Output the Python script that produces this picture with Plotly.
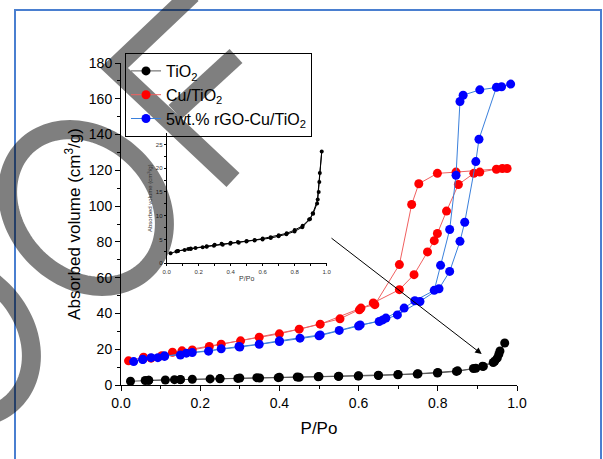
import numpy as np
import plotly.graph_objects as go

# ---------------- data ----------------
# TiO2: adsorption branch then desorption branch
tio2_p = [0.024, 0.061, 0.07, 0.112, 0.135, 0.15, 0.18, 0.225, 0.25, 0.295, 0.35, 0.397, 0.45,
          0.498, 0.549, 0.599, 0.65, 0.699, 0.748, 0.799, 0.847, 0.896, 0.913, 0.944, 0.954, 0.969,
          0.957, 0.950, 0.940, 0.915, 0.89, 0.85, 0.80, 0.75, 0.70, 0.65, 0.60, 0.55, 0.50, 0.445,
          0.40, 0.343, 0.30, 0.25, 0.15, 0.07]
tio2_v = [2.1, 2.5, 2.6, 2.8, 3.0, 3.0, 3.2, 3.4, 3.5, 3.7, 3.9, 4.1, 4.3,
          4.6, 4.8, 5.0, 5.3, 5.7, 6.1, 6.7, 7.6, 9.3, 10.5, 13.4, 17.1, 23.5,
          19.0, 15.0, 12.6, 10.4, 9.2, 7.9, 7.0, 6.3, 5.9, 5.5, 5.2, 4.9, 4.7, 4.5,
          4.3, 4.1, 3.9, 3.6, 3.1, 2.6]

cu_p = [0.019, 0.057, 0.103, 0.13, 0.18, 0.253, 0.349, 0.45, 0.553, 0.602, 0.637, 0.703, 0.74,
        0.774, 0.791, 0.799, 0.822, 0.852, 0.891, 0.906, 0.948, 0.975,
        0.963, 0.846, 0.799, 0.752, 0.734, 0.703, 0.641, 0.606, 0.503, 0.40, 0.302, 0.223,
        0.154, 0.076]
cu_v = [13.5, 15.5, 16.4, 18.3, 19.6, 22.8, 26.7, 31.2, 37.0, 42.0, 45.9, 53.3, 61.7,
        74.4, 80.7, 84.7, 97.2, 112.1, 118.3, 119.0, 120.6, 121.0,
        121.0, 119.0, 118.3, 112.5, 100.9, 67.3, 44.9, 43.0, 34.0, 28.6, 24.7, 21.5,
        19.1, 15.0]

rgo_p = [0.032, 0.055, 0.076, 0.093, 0.11, 0.15, 0.18, 0.221, 0.253, 0.298, 0.349, 0.40, 0.452,
         0.503, 0.551, 0.604, 0.652, 0.698, 0.755, 0.803, 0.83, 0.856, 0.868, 0.896, 0.904,
         0.948, 0.984,
         0.961, 0.906, 0.864, 0.856, 0.846, 0.83, 0.807, 0.791, 0.742, 0.715, 0.669, 0.661,
         0.60, 0.50, 0.40, 0.30, 0.165, 0.11, 0.055]
rgo_v = [13.1, 14.4, 15.3, 15.3, 16.3, 16.8, 18.1, 18.9, 20.2, 21.5, 22.8, 24.7, 26.2,
         28.0, 30.5, 33.6, 35.5, 39.2, 46.7, 53.8, 63.5, 80.3, 91.0, 124.9, 137.4,
         166.4, 168.2,
         166.7, 165.0, 162.0, 158.5, 117.2, 86.9, 66.9, 52.9, 47.1, 43.0, 37.4, 36.4,
         33.0, 27.5, 24.3, 21.2, 17.8, 16.0, 14.2]

series_names = ["TiO<sub>2</sub>", "Cu/TiO<sub>2</sub>", "5wt.% rGO-Cu/TiO<sub>2</sub>"]
x_ticks = [0.0, 0.2, 0.4, 0.6, 0.8, 1.0]
x_ticklabels = ["0.0", "0.2", "0.4", "0.6", "0.8", "1.0"]
y_ticks = [0, 20, 40, 60, 80, 100, 120, 140, 160, 180]
inset_y_ticks = [0, 5, 10, 15, 20, 25]

FONT = "Liberation Sans, Arial, sans-serif"

fig = go.Figure()

styles = [
    dict(mc="#000000", lc="#5a5a5a"),
    dict(mc="#ff0000", lc="#f06060"),
    dict(mc="#0000ff", lc="#3a80dc"),
]
for name, px_, vy, st in zip(series_names, [tio2_p, cu_p, rgo_p], [tio2_v, cu_v, rgo_v], styles):
    fig.add_trace(go.Scatter(
        x=px_, y=vy, name=name, mode="lines+markers",
        line=dict(color=st["lc"], width=1),
        marker=dict(color=st["mc"], size=9),
        cliponaxis=False,
    ))

# inset (same TiO2 data)
fig.add_trace(go.Scatter(
    x=tio2_p, y=tio2_v, mode="lines+markers", showlegend=False,
    xaxis="x2", yaxis="y2",
    line=dict(color="#000000", width=1),
    marker=dict(color="#000000", size=4),
    cliponaxis=False,
))

# ---------------- layout ----------------
W, H = 603, 459
L, R, T, B = 121, 86, 63, 74
PW, PH = W - L - R, H - T - B


def px2paper(x, y):
    return (x - L) / PW, (H - B - y) / PH


tickfont = dict(family=FONT, size=14, color="#000000")
axis_common = dict(showgrid=False, zeroline=False, showline=True, linecolor="#000000",
                   linewidth=1, ticks="outside", ticklen=5, tickcolor="#000000",
                   tickwidth=1, mirror=False)

ix0, _ = px2paper(166.7, 0)
ix1, _ = px2paper(326.7, 0)
_, iy0 = px2paper(0, 263.3)
_, iy1 = px2paper(0, 133)

fig.update_layout(
    width=W, height=H,
    margin=dict(l=L, r=R, t=T, b=B, pad=0),
    paper_bgcolor="white", plot_bgcolor="rgba(0,0,0,0)",
    font=dict(family=FONT, color="#000000"),
    xaxis=dict(range=[0, 1.0], tickvals=x_ticks, ticktext=x_ticklabels, tickfont=tickfont,
               title=dict(text="P/Po", font=dict(family=FONT, size=17), standoff=12),
               minor=dict(ticks="outside", ticklen=3, dtick=0.1, tickcolor="#000000"),
               **axis_common),
    yaxis=dict(range=[0, 180], tickvals=y_ticks, tickfont=tickfont,
               title=dict(text="Absorbed volume (cm<sup>3</sup>/g)",
                          font=dict(family=FONT, size=17), standoff=3),
               minor=dict(ticks="outside", ticklen=3, dtick=10, tickcolor="#000000"),
               **axis_common),
    xaxis2=dict(domain=[ix0, ix1], anchor="y2", range=[0, 1.0], tickvals=x_ticks,
                ticktext=x_ticklabels, tickfont=dict(family=FONT, size=6, color="#333333"),
                title=dict(text="P/Po", font=dict(family=FONT, size=7, color="#333333"),
                           standoff=2),
                showgrid=False, zeroline=False, showline=True, linecolor="#000000",
                linewidth=1, ticks="outside", ticklen=2, tickcolor="#000000",
                minor=dict(ticks="outside", ticklen=1.5, dtick=0.1, tickcolor="#000000")),
    yaxis2=dict(domain=[iy0, iy1], anchor="x2", range=[0, 27.4], tickvals=inset_y_ticks,
                tickfont=dict(family=FONT, size=6, color="#333333"),
                title=dict(text="Absorbed volume (cm<sup>3</sup>/g)",
                           font=dict(family=FONT, size=6, color="#333333"), standoff=2),
                showgrid=False, zeroline=False, showline=True, linecolor="#000000",
                linewidth=1, ticks="outside", ticklen=2, tickcolor="#000000",
                minor=dict(ticks="outside", ticklen=1.5, dtick=2.5, tickcolor="#000000")),
    legend=dict(x=px2paper(125, 0)[0], y=px2paper(0, 53)[1], xanchor="left", yanchor="top",
                bgcolor="rgba(0,0,0,0)", bordercolor="#000000", borderwidth=1,
                font=dict(family=FONT, size=16), tracegroupgap=0, itemwidth=30),
    showlegend=True,
)

# arrow from inset to TiO2 curve
hx, hy = px2paper(481.7, 354)
fig.add_annotation(x=hx, y=hy, xref="paper", yref="paper", ax=330 - 481.7, ay=237 - 354,
                   axref="pixel", ayref="pixel", showarrow=True, arrowhead=2, arrowsize=1.3,
                   arrowwidth=1, arrowcolor="#000000", text="")

# ---------------- decorations: blue frame and watermark ----------------
shapes = []
fx0, fy0 = px2paper(15, 10)
fx1, fy1 = px2paper(601, 480)
shapes.append(dict(type="rect", xref="paper", yref="paper", x0=fx0, x1=fx1, y0=fy1, y1=fy0,
                   line=dict(color="#4a7fd0", width=2), fillcolor="rgba(0,0,0,0)"))

WM = "rgba(0,0,0,0.5)"


def path_from_px(pts, close=False):
    s = ""
    for i, (x, y) in enumerate(pts):
        a, b = px2paper(x, y)
        s += ("M" if i == 0 else "L") + f"{a:.5f},{b:.5f} "
    if close:
        s += "Z"
    return s


# "<" arms
shapes.append(dict(type="path", xref="paper", yref="paper", layer="above",
                   path=path_from_px([(192, -6), (114, 68), (233, 180)]),
                   line=dict(color=WM, width=19)))
shapes.append(dict(type="path", xref="paper", yref="paper", layer="above",
                   path=path_from_px([(236, 56), (175, 112)]),
                   line=dict(color=WM, width=19)))


def ring(cx, cy, a, b, rot):
    th = np.linspace(0, 2 * np.pi, 120, endpoint=False)
    c, s = np.cos(rot), np.sin(rot)
    xs = cx + a * np.cos(th) * c - b * np.sin(th) * s
    ys = cy + a * np.cos(th) * s + b * np.sin(th) * c
    return list(zip(xs, ys))


for (cx, cy) in [(86, 208), (-47, 340)]:
    shapes.append(dict(type="path", xref="paper", yref="paper", layer="above",
                       path=path_from_px(ring(cx, cy, 86, 70, np.pi / 4), close=True),
                       line=dict(color=WM, width=19)))

fig.update_layout(shapes=shapes)

fig.write_html("out.html")
